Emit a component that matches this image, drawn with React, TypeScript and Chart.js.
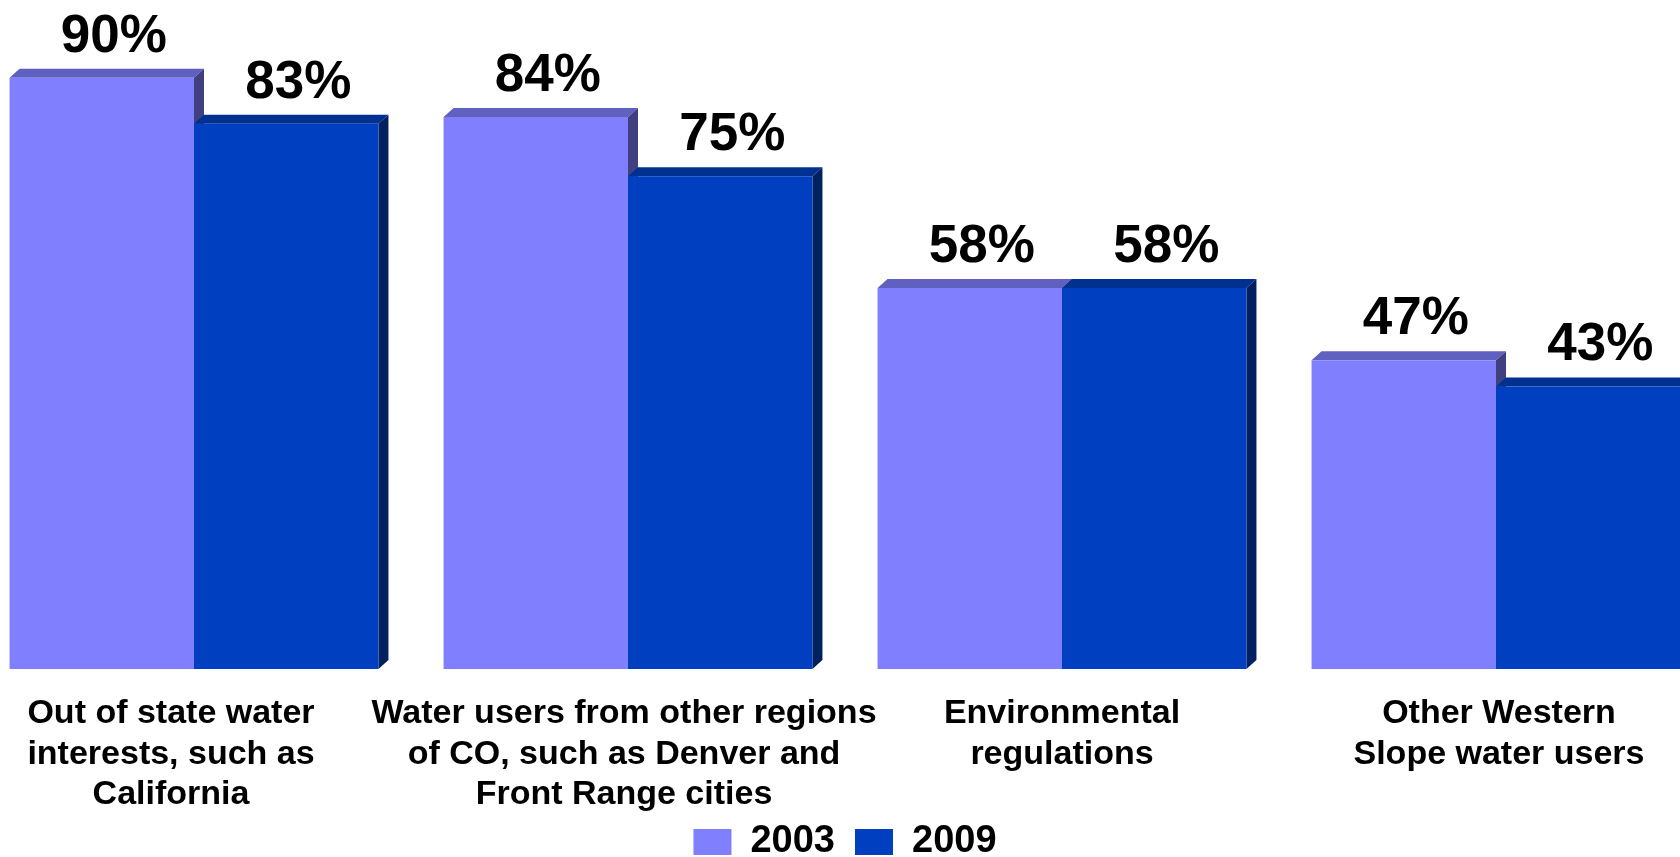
import React, { useEffect, useRef } from "react";
import { Chart, registerables } from "chart.js";

Chart.register(...registerables);

const categories: string[][] = [
  ["Out of state water", "interests, such as", "California"],
  ["Water users from other regions", "of CO, such as Denver and", "Front Range cities"],
  ["Environmental", "regulations"],
  ["Other Western", "Slope water users"],
];
const seriesNames = ["2003", "2009"];
const values2003 = [90, 84, 58, 47];
const values2009 = [83, 75, 58, 43];

const FONT = '"Liberation Sans", Arial, Helvetica, sans-serif';
const frontColors = ["#8080FF", "#0040C0"];
const topColors = ["#6060C0", "#003090"];
const sideColors = ["#404080", "#002060"];
const DX = 10;
const DY = 9;
const labelOffsets = [-23, -4, 0, 3];

const bar3d = {
  id: "bar3d",
  beforeDatasetsDraw(chart: any) {
    const ctx = chart.ctx;
    chart.data.datasets.forEach((_ds: any, di: number) => {
      const meta = chart.getDatasetMeta(di);
      meta.data.forEach((bar: any) => {
        const { x, y, base, width } = bar.getProps(["x", "y", "base", "width"], true);
        const l = x - width / 2;
        const r = x + width / 2;
        ctx.save();
        ctx.fillStyle = topColors[di];
        ctx.beginPath();
        ctx.moveTo(l, y);
        ctx.lineTo(l + DX, y - DY);
        ctx.lineTo(r + DX, y - DY);
        ctx.lineTo(r, y);
        ctx.closePath();
        ctx.fill();
        ctx.fillStyle = sideColors[di];
        ctx.beginPath();
        ctx.moveTo(r, y);
        ctx.lineTo(r + DX, y - DY);
        ctx.lineTo(r + DX, base - DY);
        ctx.lineTo(r, base);
        ctx.closePath();
        ctx.fill();
        ctx.restore();
      });
    });
  },
  afterDatasetsDraw(chart: any) {
    const ctx = chart.ctx;
    ctx.save();
    ctx.fillStyle = "#000";
    ctx.textAlign = "center";
    ctx.textBaseline = "alphabetic";
    ctx.font = `bold 53px ${FONT}`;
    chart.data.datasets.forEach((ds: any, di: number) => {
      const meta = chart.getDatasetMeta(di);
      meta.data.forEach((bar: any, i: number) => {
        const { x, y } = bar.getProps(["x", "y"], true);
        ctx.fillText(`${ds.data[i]}%`, x + 12, y - 26);
      });
    });
    const xs = chart.scales.x;
    ctx.font = `bold 34px ${FONT}`;
    categories.forEach((lines, i) => {
      const cx = xs.getPixelForValue(i) + labelOffsets[i];
      lines.forEach((line, j) => {
        ctx.fillText(line, cx, chart.chartArea.bottom + 54 + j * 40.6);
      });
    });
    ctx.restore();
  },
};

export default function App() {
  const ref = useRef<HTMLCanvasElement | null>(null);
  useEffect(() => {
    if (!ref.current) return;
    const chart = new Chart(ref.current, {
      type: "bar",
      data: {
        labels: categories.map((c) => c.join(" ")),
        datasets: [
          {
            label: seriesNames[0],
            data: values2003,
            backgroundColor: frontColors[0],
            borderWidth: 0,
            categoryPercentage: 0.85,
            barPercentage: 1.0,
          },
          {
            label: seriesNames[1],
            data: values2009,
            backgroundColor: frontColors[1],
            borderWidth: 0,
            categoryPercentage: 0.85,
            barPercentage: 1.0,
          },
        ],
      },
      options: {
        responsive: false,
        devicePixelRatio: 1,
        animation: false,
        events: [],
        layout: { padding: { top: 12, left: 0, right: 0, bottom: 0 } },
        plugins: {
          tooltip: { enabled: false },
          legend: {
            display: true,
            position: "bottom",
            labels: {
              boxWidth: 38,
              boxHeight: 26,
              padding: 20,
              color: "#000",
              font: { family: FONT, size: 38, weight: "bold" },
            },
          },
        },
        scales: {
          x: {
            display: true,
            grid: { display: false },
            border: { display: false },
            ticks: { display: false },
            afterFit: (s: any) => {
              s.height = 134;
            },
          },
          y: { display: false, min: 0, max: 100 },
        },
      },
      plugins: [bar3d],
    } as any);
    return () => chart.destroy();
  }, []);
  return (
    <div
      style={{
        position: "fixed",
        left: -23,
        top: 0,
        width: 1703,
        height: 857,
        overflow: "hidden",
        background: "#fff",
      }}
    >
      <canvas ref={ref} width={1736} height={871} style={{ width: 1736, height: 871, display: "block" }} />
    </div>
  );
}
